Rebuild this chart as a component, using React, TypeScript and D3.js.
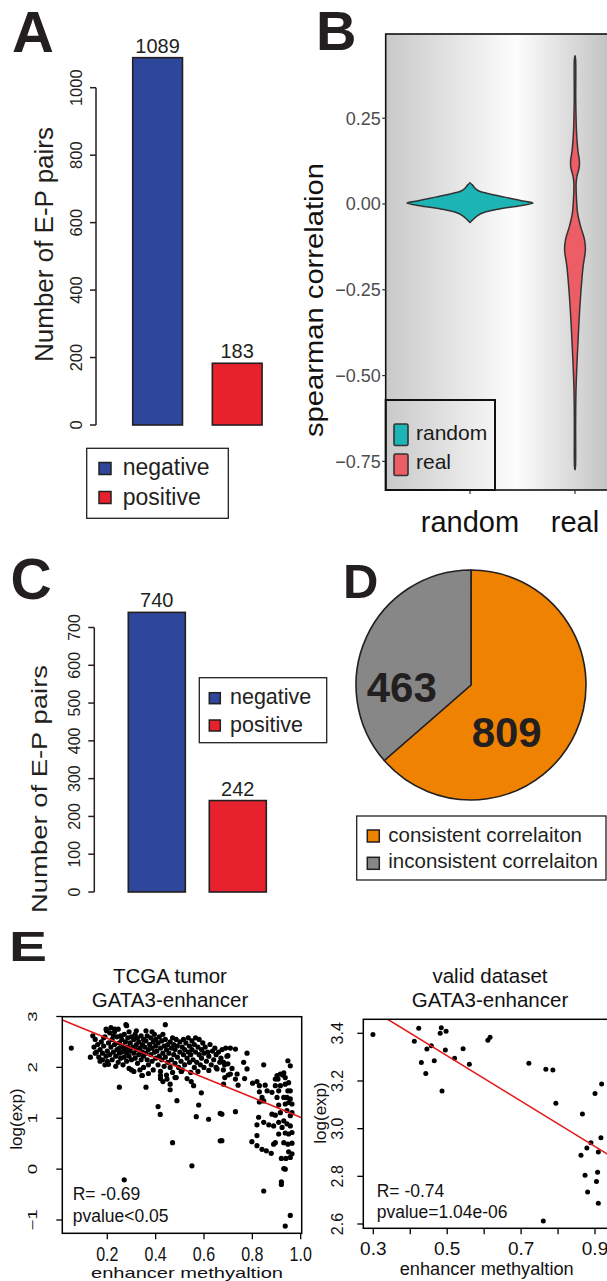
import React from 'react';
import * as d3 from 'd3';

const FONT = '"Liberation Sans", Arial, Helvetica, sans-serif';
const INK = '#231f20';

// ---- A / C : counts of E-P pairs
const pairCats = ['negative', 'positive'];
const pairColors = ['#2f479b', '#e7222d'];
const pairsAll = [1089, 183];
const pairsAllTicks = [0, 200, 400, 600, 800, 1000];
const pairsValid = [740, 242];
const pairsValidTicks = [0, 100, 200, 300, 400, 500, 600, 700];

// ---- B : violin of spearman correlation
const violinCats = ['random', 'real'];
const violinColors = ['#1db4b5', '#ec5d66'];
const corrTicks = [0.25, 0, -0.25, -0.5, -0.75];
const corrTickLabels = ['0.25', '0.00', '\u22120.25', '\u22120.50', '\u22120.75'];
// [correlation, relative density]
const randomDensity = [
  [0.062, 0], [0.055, 0.04], [0.046, 0.08], [0.038, 0.14], [0.03, 0.3], [0.02, 0.55],
  [0.01, 0.8], [0.003, 1], [-0.005, 0.8], [-0.015, 0.45], [-0.025, 0.22], [-0.035, 0.11],
  [-0.045, 0.05], [-0.054, 0],
];
const realDensity = [
  [0.433, 0], [0.42, 0.01], [0.3, 0.012], [0.206, 0.025], [0.157, 0.045], [0.125, 0.07],
  [0.105, 0.065], [0.08, 0.03], [0.06, 0.018], [0.031, 0.02], [-0.027, 0.042], [-0.066, 0.09],
  [-0.105, 0.152], [-0.134, 0.165], [-0.183, 0.128], [-0.26, 0.092], [-0.338, 0.065],
  [-0.416, 0.044], [-0.47, 0.03], [-0.55, 0.015], [-0.65, 0.01], [-0.765, 0.008], [-0.775, 0],
];

// ---- D : pie
const pieCats = ['consistent correlaiton', 'inconsistent correlaiton'];
const pieCounts = [809, 463];
const pieColors = ['#ef8200', '#878787'];

// ---- E : scatter plots
const tcgaTicksX = [0.2, 0.4, 0.6, 0.8, 1.0];
const tcgaTicksY = [-1, 0, 1, 2, 3];
const tcgaFit = [2.96, -1.94];
const tcgaPoints = [
  // sparse points
  [0.051, 2.38], [0.13, 2.2], [0.25, 1.61], [0.27, -0.21], [0.36, 1.61], [0.41, 1.23], [0.419, 1.075],
  [0.488, 1.345], [0.47, 0.52], [0.55, 0.065], [0.578, 1.26], [0.568, 1.03], [0.619, 0.98], [0.667, 1.095],
  [0.667, 0.557], [0.589, 1.5], [0.557, 1.64], [0.547, 1.72], [0.53, 1.78], [0.46, 1.56], [0.46, 1.67],
  [0.48, 1.8], [0.343, 1.84], [0.447, 1.77], [0.42, 1.84], [0.506, 1.92], [0.62, 1.94], [0.654, 1.97],
  [0.681, 1.67], [0.44, 2.84], [0.277, 2.84], [0.197, 2.72], [0.231, 2.75],
  // main cloud
  [0.14, 2.62], [0.15, 2.55], [0.145, 2.4], [0.155, 2.3], [0.16, 2.45], [0.165, 2.2], [0.15, 2.28],
  [0.17, 2.35], [0.175, 2.5], [0.18, 2.15], [0.18, 2.28], [0.185, 2.42], [0.19, 2.05], [0.19, 2.6],
  [0.195, 2.22], [0.2, 2.32], [0.2, 2.12], [0.195, 2.75], [0.205, 2.48], [0.21, 2.68], [0.21, 2.25],
  [0.205, 2.06], [0.17, 2.12], [0.185, 2.58],
  [0.215, 2.4], [0.22, 2.55], [0.22, 2.15], [0.225, 2.3], [0.23, 2.7], [0.23, 2.45], [0.235, 2.22],
  [0.24, 2.35], [0.24, 2.6], [0.245, 2.1], [0.25, 2.48], [0.25, 2.28], [0.245, 2.75], [0.235, 2.02],
  [0.255, 2.18], [0.255, 2.62], [0.225, 2.62], [0.215, 2.78], [0.25, 2.38],
  [0.26, 2.55], [0.26, 2.3], [0.265, 2.42], [0.27, 2.2], [0.27, 2.65], [0.275, 2.35], [0.275, 2.5],
  [0.28, 2.12], [0.28, 2.28], [0.285, 2.58], [0.285, 2.4], [0.29, 2.22], [0.29, 2.7], [0.295, 2.32],
  [0.295, 2.48], [0.3, 2.15], [0.3, 2.6], [0.3, 1.95], [0.265, 2.05], [0.28, 2.82], [0.29, 1.98], [0.27, 2.38],
  [0.305, 2.4], [0.31, 2.28], [0.31, 2.55], [0.315, 2.18], [0.315, 2.65], [0.32, 2.35], [0.32, 2.45],
  [0.325, 2.08], [0.325, 2.58], [0.33, 2.25], [0.33, 2.5], [0.335, 2.38], [0.34, 2.15], [0.34, 2.62],
  [0.345, 2.3], [0.345, 2.45], [0.35, 2.0], [0.35, 2.55], [0.31, 1.92], [0.335, 1.95], [0.32, 2.72],
  [0.345, 1.84], [0.35, 2.22],
  [0.355, 2.4], [0.36, 2.28], [0.36, 2.52], [0.365, 2.15], [0.365, 2.62], [0.37, 2.35], [0.37, 2.05],
  [0.375, 2.45], [0.38, 2.25], [0.38, 2.58], [0.385, 2.12], [0.385, 2.38], [0.39, 2.5], [0.39, 1.95],
  [0.395, 2.3], [0.395, 2.65], [0.4, 2.18], [0.4, 2.42], [0.37, 1.88], [0.4, 2.55], [0.36, 2.72], [0.385, 2.7],
  [0.405, 2.32], [0.41, 2.05], [0.41, 2.48], [0.415, 2.22], [0.415, 2.6], [0.42, 2.38], [0.42, 1.92],
  [0.425, 2.15], [0.425, 2.52], [0.43, 2.28], [0.43, 2.65], [0.435, 2.42], [0.435, 2.02], [0.44, 2.2],
  [0.44, 2.55], [0.445, 2.35], [0.445, 1.85], [0.45, 2.1], [0.45, 2.45], [0.42, 1.78], [0.43, 1.72],
  [0.455, 2.28], [0.46, 2.5], [0.46, 2.0], [0.465, 2.38], [0.465, 2.15], [0.47, 2.58], [0.47, 1.9],
  [0.475, 2.25], [0.475, 2.45], [0.48, 2.08], [0.48, 2.35], [0.485, 1.8], [0.485, 2.55], [0.49, 2.2],
  [0.49, 2.42], [0.495, 2.0], [0.5, 2.3], [0.5, 2.5],
  [0.505, 2.12], [0.51, 2.4], [0.51, 1.95], [0.515, 2.25], [0.515, 2.55], [0.52, 2.05], [0.52, 2.35],
  [0.525, 2.48], [0.53, 2.18], [0.535, 2.3], [0.535, 2.58], [0.54, 2.1], [0.54, 2.42], [0.545, 1.9],
  [0.545, 2.25], [0.55, 2.35], [0.55, 2.52], [0.506, 1.92],
  [0.555, 2.15], [0.56, 2.45], [0.56, 2.0], [0.565, 2.3], [0.565, 2.58], [0.57, 2.1], [0.575, 2.4],
  [0.575, 1.92], [0.58, 2.25], [0.58, 2.55], [0.585, 2.05], [0.59, 2.35], [0.59, 2.18], [0.595, 2.48],
  [0.6, 2.0], [0.6, 2.28],
  [0.605, 2.4], [0.61, 2.12], [0.615, 2.3], [0.62, 2.22], [0.625, 2.45], [0.63, 2.05], [0.635, 2.32],
  [0.64, 2.15], [0.645, 2.38], [0.65, 2.0], [0.65, 2.25],
  [0.66, 2.3], [0.665, 2.1], [0.67, 2.18], [0.675, 2.35], [0.68, 1.95], [0.685, 2.05], [0.69, 2.38],
  [0.695, 2.22], [0.7, 1.85],
  // high methylation
  [0.709, 2.38], [0.73, 2.36], [0.699, 2.23], [0.778, 2.28], [0.681, 2.1], [0.699, 2.07], [0.764, 2.1],
  [0.716, 1.98], [0.778, 1.97], [0.686, 1.8], [0.709, 1.87], [0.737, 1.87], [0.73, 1.77], [0.768, 1.78],
  [0.741, 1.65], [0.73, 1.13], [0.674, 1.08], [0.674, 0.56], [0.847, 2.05],
  [0.801, 1.69], [0.819, 1.72], [0.829, 1.64], [0.853, 1.65], [0.829, 1.52], [0.861, 1.54], [0.84, 1.41],
  [0.829, 1.32], [0.847, 1.34], [0.895, 1.77], [0.902, 1.84], [0.916, 1.87], [0.93, 1.89], [0.936, 1.8],
  [0.895, 1.64], [0.916, 1.64], [0.936, 1.67], [0.95, 1.7], [0.909, 1.54], [0.947, 1.54], [0.957, 1.54],
  [0.881, 1.51], [0.902, 1.41], [0.93, 1.41], [0.943, 1.41], [0.957, 1.38], [0.95, 1.31], [0.936, 1.28],
  [0.964, 1.28], [0.909, 1.26], [0.881, 1.08], [0.895, 1.06], [0.916, 1.11], [0.943, 1.15], [0.964, 1.11],
  [0.957, 1.05], [0.826, 1.02], [0.847, 0.92], [0.868, 0.87], [0.888, 0.85], [0.819, 0.87], [0.909, 0.92],
  [0.93, 0.95], [0.943, 0.89], [0.923, 0.82], [0.957, 0.85], [0.909, 0.69], [0.936, 0.71], [0.95, 0.69],
  [0.964, 0.72], [0.819, 0.66], [0.895, 0.52], [0.888, 0.49], [0.93, 0.52], [0.947, 0.49], [0.964, 0.51],
  [0.798, 0.54], [0.819, 0.46], [0.84, 0.39], [0.858, 0.36], [0.878, 0.31], [0.95, 0.34], [0.964, 0.3],
  [0.957, 0.23], [0.92, 0.21], [0.939, 0.21], [0.93, 0.01], [0.936, 0.0], [0.92, -0.25], [0.92, -0.3],
  [0.847, -0.43], [0.957, -0.91], [0.936, -1.12], [0.947, 2.13], [0.957, 2.03], [0.926, 1.85], [0.906, 1.77],
];

const validTicksX = [0.3, 0.4, 0.5, 0.6, 0.7, 0.8, 0.9];
const validLabelsX = [0.3, 0.5, 0.7, 0.9];
const validTicksY = [2.6, 2.8, 3.0, 3.2, 3.4];
const validFit = [3.781, -0.951];
const validPoints = [
  [0.299, 3.395], [0.423, 3.421], [0.411, 3.367], [0.484, 3.423], [0.481, 3.4], [0.497, 3.409],
  [0.445, 3.334], [0.457, 3.348], [0.495, 3.33], [0.543, 3.335], [0.52, 3.295], [0.56, 3.27],
  [0.43, 3.278], [0.465, 3.285], [0.442, 3.231], [0.486, 3.158], [0.61, 3.371], [0.616, 3.383],
  [0.721, 3.274], [0.767, 3.249], [0.786, 3.246], [0.794, 3.107], [0.918, 3.187], [0.9, 3.147],
  [0.866, 3.061], [0.916, 2.962], [0.889, 2.941], [0.878, 2.919], [0.909, 2.902], [0.862, 2.888],
  [0.907, 2.817], [0.873, 2.805], [0.904, 2.778], [0.88, 2.734], [0.909, 2.687], [0.76, 2.613],
];

const rot = (x: number, y: number, sx = 1) => `translate(${x},${y}) rotate(-90) scale(${sx},1)`;

function PanelLetter({ x, y, size, children, sy = 1 }: any) {
  return (
    <text transform={`translate(${x},${y}) scale(1,${sy})`} fontSize={size} fontWeight="bold" fill={INK}>
      {children}
    </text>
  );
}

function BarPanel({ values, ticks, domainMax, yBottom, yTop, band, padInner, axisX, tickLabelX, tickSize,
  titleX, titleY, titleSize, titleLen, valueSize, legend }: any) {
  const y = d3.scaleLinear().domain([0, domainMax]).range([yBottom, yTop]);
  const x = d3.scaleBand().domain(pairCats).range(band).paddingInner(padInner).paddingOuter(padInner / 2);
  return (
    <g>
      <line x1={axisX} x2={axisX} y1={y(ticks[0])} y2={y(ticks[ticks.length - 1])} stroke={INK} strokeWidth={1.5} />
      {ticks.map((t: number) => (
        <g key={t}>
          <line x1={axisX - 6} x2={axisX} y1={y(t)} y2={y(t)} stroke={INK} strokeWidth={1.5} />
          <text transform={rot(tickLabelX, y(t))} textAnchor="middle" fontSize={tickSize} fill={INK}>{t}</text>
        </g>
      ))}
      <text transform={rot(titleX, titleY)} textAnchor="middle" fontSize={titleSize} fill={INK}
        textLength={titleLen} lengthAdjust="spacingAndGlyphs">Number of E-P pairs</text>
      {pairCats.map((c, i) => (
        <g key={c}>
          <rect x={x(c)} y={y(values[i])} width={x.bandwidth()} height={y(0) - y(values[i])}
            fill={pairColors[i]} stroke={INK} strokeWidth={1.6} />
          <text x={(x(c) as number) + x.bandwidth() / 2} y={y(values[i]) - 5} textAnchor="middle"
            fontSize={valueSize} fill={INK}>{values[i]}</text>
        </g>
      ))}
      <rect x={legend.x} y={legend.y} width={legend.w} height={legend.h} fill="#fff" stroke={INK} strokeWidth={1.3} />
      {pairCats.map((c, i) => (
        <g key={c}>
          <rect x={legend.keyX} y={legend.keyY[i]} width={legend.key} height={legend.key} fill={pairColors[i]}
            stroke={INK} strokeWidth={1.5} />
          <text x={legend.textX} y={legend.textY[i]} fontSize={legend.size} fill={INK}>{c}</text>
        </g>
      ))}
    </g>
  );
}

function ViolinPanel() {
  const y = d3.scaleLinear().domain([0, 0.25]).range([204, 118.2]);
  const x = d3.scalePoint().domain(violinCats).range([470, 575]);
  const w = d3.scaleLinear().domain([0, 1]).range([0, 63]);
  const left = 385.7, top = 34, bottom = 490;
  const shapes = [randomDensity, realDensity];
  return (
    <g>
      <defs>
        <linearGradient id="bgB" gradientUnits="userSpaceOnUse" x1={left} x2={607} y1={0} y2={0}>
          <stop offset="0" stopColor="#c9c9c9" />
          <stop offset="0.59" stopColor="#fdfdfd" />
          <stop offset="1" stopColor="#c4c4c4" />
        </linearGradient>
      </defs>
      <rect x={left} y={top} width={260} height={bottom - top} fill="url(#bgB)" stroke="#111" strokeWidth={1.6} />
      {corrTicks.map((t, i) => (
        <g key={t}>
          <line x1={left - 3.5} x2={left} y1={y(t)} y2={y(t)} stroke="#333" strokeWidth={1.2} />
          <text x={left - 5} y={y(t)} dy="0.35em" textAnchor="end" fontSize={18} fill="#4d4d4d">{corrTickLabels[i]}</text>
        </g>
      ))}
      <text transform={rot(323, 300)} textAnchor="middle" fontSize={25} fill="#111"
        textLength={274} lengthAdjust="spacingAndGlyphs">spearman correlation</text>
      {violinCats.map((c, i) => {
        const cx = x(c) as number;
        const path = d3.area<number[]>()
          .y(d => y(d[0]))
          .x0(d => cx - w(d[1]))
          .x1(d => cx + w(d[1]))
          .curve(d3.curveCatmullRom)(shapes[i] as number[][]);
        return (
          <g key={c}>
            <path d={path || ''} fill={violinColors[i]} stroke="#333" strokeWidth={1.5} />
            <line x1={cx} x2={cx} y1={bottom} y2={bottom + 4} stroke="#333" strokeWidth={1.2} />
            <text x={cx} y={532} textAnchor="middle" fontSize={29} fill="#111">{c}</text>
          </g>
        );
      })}
      <rect x={left} y={400} width={109.3} height={bottom - 400} fill="none" stroke="#111" strokeWidth={2} />
      {violinCats.map((c, i) => (
        <g key={c}>
          <rect x={394} y={424 + i * 30} width={14} height={21.5} rx={1.5} fill={violinColors[i]} stroke="#333" strokeWidth={1.6} />
          <text x={416} y={440 + i * 28.5} fontSize={21} fill="#1a1a1a">{c}</text>
        </g>
      ))}
    </g>
  );
}

function PiePanel() {
  const arcs = d3.pie<number>().sort(null)(pieCounts);
  const arc = d3.arc<d3.PieArcDatum<number>>().innerRadius(0).outerRadius(115);
  const cx = 471, cy = 685;
  const labelOffset = [[35.7, 61.7], [-69.3, 16.7]];
  return (
    <g>
      <g transform={`translate(${cx},${cy})`}>
        {arcs.map((a, i) => (
          <path key={i} d={arc(a) || ''} fill={pieColors[i]} stroke={INK} strokeWidth={1.6} strokeLinejoin="round" />
        ))}
        {arcs.map((a, i) => (
          <text key={'l' + i} x={labelOffset[i][0]} y={labelOffset[i][1]} textAnchor="middle" fontSize={42}
            fontWeight="bold" fill={INK}>{a.data}</text>
        ))}
      </g>
      <rect x={356.7} y={816} width={249.3} height={64} fill="#fff" stroke={INK} strokeWidth={1.3} />
      {pieCats.map((c, i) => (
        <g key={c}>
          <rect x={367.3} y={830 + i * 27.3} width={12} height={12} fill={pieColors[i]} stroke={INK} strokeWidth={1.5} />
          <text x={388.3} y={841.7 + i * 26.6} fontSize={20.5} fill={INK}>{c}</text>
        </g>
      ))}
    </g>
  );
}

function TcgaScatter() {
  const x = d3.scaleLinear().domain([0.2, 1.0]).range([107.3, 300.7]);
  const y = d3.scaleLinear().domain([-1, 3]).range([1220, 1016.5]);
  const L = 62.3, R = 301.7, T = 1016.7, B = 1233.3;
  const fx0 = x.invert(L), fx1 = x.invert(R);
  return (
    <g>
      <defs>
        <clipPath id="clipL"><rect x={L} y={T} width={R - L} height={B - T} /></clipPath>
      </defs>
      <text x={170} y={983.3} textAnchor="middle" fontSize={20.5} fill="#111">TCGA tumor</text>
      <text x={170} y={1007.3} textAnchor="middle" fontSize={20.5} fill="#111">GATA3-enhancer</text>
      <g clipPath="url(#clipL)">
        {tcgaPoints.map((p, i) => (
          <circle key={i} cx={x(p[0])} cy={y(p[1])} r={2.6} fill="#000" />
        ))}
        <line x1={x(fx0)} y1={y(tcgaFit[0] + tcgaFit[1] * fx0)} x2={x(fx1)} y2={y(tcgaFit[0] + tcgaFit[1] * fx1)}
          stroke="#e31a1c" strokeWidth={1.6} />
      </g>
      <rect x={L} y={T} width={R - L} height={B - T} fill="none" stroke="#000" strokeWidth={1.5} />
      {tcgaTicksY.map(t => (
        <g key={t}>
          <line x1={L - 6} x2={L} y1={y(t)} y2={y(t)} stroke="#000" strokeWidth={1.3} />
          <text transform={rot(37, y(t), 1.5)} textAnchor="middle" fontSize={12.5} fill="#111">
            {t < 0 ? '\u2212' + Math.abs(t) : t}
          </text>
        </g>
      ))}
      {tcgaTicksX.map(t => (
        <g key={t}>
          <line x1={x(t)} x2={x(t)} y1={B} y2={B + 6} stroke="#000" strokeWidth={1.3} />
          <text transform={`translate(${x(t)},1260.5) scale(1,1.25)`} textAnchor="middle" fontSize={16} fill="#111">
            {t.toFixed(1)}
          </text>
        </g>
      ))}
      <text transform={rot(21.5, 1119)} textAnchor="middle" fontSize={17} fill="#111">log(exp)</text>
      <text x={187} y={1277.5} textAnchor="middle" fontSize={15} fill="#111"
        textLength={192} lengthAdjust="spacingAndGlyphs">enhancer methyaltion</text>
      <text x={72.7} y={1200} fontSize={17.5} fill="#111">R= -0.69</text>
      <text x={72.7} y={1221.7} fontSize={17.5} fill="#111">pvalue&lt;0.05</text>
    </g>
  );
}

function ValidScatter() {
  const x = d3.scaleLinear().domain([0.3, 0.9]).range([373.3, 595]);
  const y = d3.scaleLinear().domain([2.6, 3.4]).range([1224, 1033.3]);
  const L = 363.3, R = 609, T = 1019.3, B = 1228.3;
  const fx0 = x.invert(L), fx1 = x.invert(R);
  return (
    <g>
      <defs>
        <clipPath id="clipR"><rect x={L} y={T} width={R - L} height={B - T} /></clipPath>
      </defs>
      <text x={490} y={983.3} textAnchor="middle" fontSize={20.5} fill="#111">valid dataset</text>
      <text x={490} y={1007.3} textAnchor="middle" fontSize={20.5} fill="#111">GATA3-enhancer</text>
      <g clipPath="url(#clipR)">
        {validPoints.map((p, i) => (
          <circle key={i} cx={x(p[0])} cy={y(p[1])} r={2.5} fill="#000" />
        ))}
        <line x1={x(fx0)} y1={y(validFit[0] + validFit[1] * fx0)} x2={x(fx1)} y2={y(validFit[0] + validFit[1] * fx1)}
          stroke="#e31a1c" strokeWidth={1.6} />
      </g>
      <rect x={L} y={T} width={R - L} height={B - T} fill="none" stroke="#000" strokeWidth={1.5} />
      {validTicksY.map(t => (
        <g key={t}>
          <line x1={L - 6} x2={L} y1={y(t)} y2={y(t)} stroke="#000" strokeWidth={1.3} />
          <text transform={rot(343, y(t))} textAnchor="middle" fontSize={16} fill="#111">{t.toFixed(1)}</text>
        </g>
      ))}
      {validTicksX.map(t => (
        <line key={t} x1={x(t)} x2={x(t)} y1={B} y2={B + 6} stroke="#000" strokeWidth={1.3} />
      ))}
      {validLabelsX.map(t => (
        <text key={t} x={x(t)} y={1255} textAnchor="middle" fontSize={19} fill="#111">{t.toFixed(1)}</text>
      ))}
      <text transform={rot(326, 1113)} textAnchor="middle" fontSize={17} fill="#111">log(exp)</text>
      <text x={486.7} y={1275} textAnchor="middle" fontSize={17.5} fill="#111"
        textLength={174} lengthAdjust="spacingAndGlyphs">enhancer methyaltion</text>
      <text x={376.7} y={1196.7} fontSize={17.5} fill="#111">R= -0.74</text>
      <text x={376.7} y={1218.3} fontSize={17.5} fill="#111">pvalue=1.04e-06</text>
    </g>
  );
}

export default function App() {
  return (
    <div style={{ position: 'absolute', left: 0, top: 0 }}>
      <svg width={607} height={1281} viewBox="0 0 607 1281" style={{ display: 'block', background: '#fff' }}
        fontFamily={FONT}>
        <rect width={607} height={1281} fill="#fff" />
        <PanelLetter x={12} y={51.7} size={58}>A</PanelLetter>
        <PanelLetter x={316} y={50} size={56}>B</PanelLetter>
        <PanelLetter x={10.5} y={599} size={57}>C</PanelLetter>
        <PanelLetter x={343} y={598.3} size={49}>D</PanelLetter>
        <PanelLetter x={9} y={961} size={57} sy={0.76}>E</PanelLetter>

        <BarPanel values={pairsAll} ticks={pairsAllTicks} domainMax={1000} yBottom={425} yTop={87.7}
          band={[117.8, 277]} padInner={0.375} axisX={96} tickLabelX={81.7} tickSize={16.5}
          titleX={52.7} titleY={244.5} titleSize={26} titleLen={235} valueSize={20}
          legend={{ x: 86.7, y: 448.3, w: 141.6, h: 70, keyX: 99, keyY: [462.5, 491.5], key: 12,
            textX: 122.7, textY: [475.3, 505], size: 23 }} />

        <ViolinPanel />

        <BarPanel values={pairsValid} ticks={pairsValidTicks} domainMax={700} yBottom={892} yTop={627.5}
          band={[116.3, 278.3]} padInner={0.296} axisX={94.3} tickLabelX={80} tickSize={16}
          titleX={46.7} titleY={789} titleSize={21.5} titleLen={248} valueSize={20}
          legend={{ x: 199.3, y: 677.7, w: 127.4, h: 65, keyX: 209.3, keyY: [692.7, 720], key: 11,
            textX: 230, textY: [704, 731.7], size: 21.5 }} />

        <PiePanel />
        <TcgaScatter />
        <ValidScatter />
      </svg>
    </div>
  );
}
